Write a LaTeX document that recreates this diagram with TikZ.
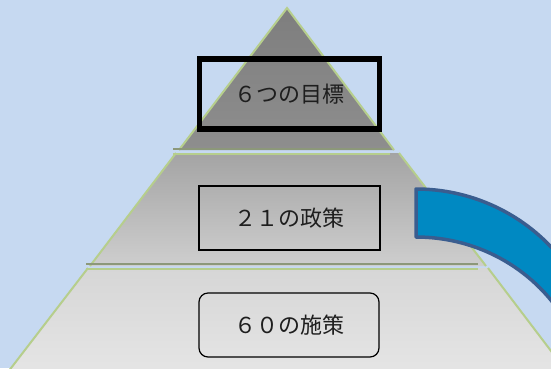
\documentclass[tikz,border=0pt]{standalone}
\usepackage{fontspec}
\setmainfont{Noto Sans CJK JP}
\definecolor{skyback}{RGB}{198,217,241}
\definecolor{edgegreen}{RGB}{182,206,140}
\definecolor{shadowline}{RGB}{140,152,122}
\definecolor{arrowfill}{RGB}{0,137,194}
\definecolor{arrowedge}{RGB}{58,93,143}
\definecolor{labeltext}{RGB}{30,30,30}
\begin{document}
\begin{tikzpicture}[x=1pt,y=-1pt,
      every node/.style={
        text=labeltext,
        inner sep=0pt,
        font=\fontsize{22}{24}\selectfont % full-width label size
      },
      goalbox/.style={draw=black,line width=5.5pt,minimum width=180pt,minimum height=70pt},
      policybox/.style={draw=black,line width=1.2pt,minimum width=181pt,minimum height=64pt},
      measurebox/.style={draw=black,line width=1.2pt,rounded corners=9pt,minimum width=180pt,minimum height=64pt},
      sideline/.style={edgegreen,line width=2pt},
      tierdark/.style={shadowline,line width=2pt},
      tierlight/.style={edgegreen,line width=2pt}]
      \useasboundingbox (0,0) rectangle (551,368);
      \clip (0,0) rectangle (551,368);
      \fill[skyback] (0,0) rectangle (551,368);

      % tiers of the pyramid
      \shade[top color={rgb,255:red,126;green,126;blue,126},bottom color={rgb,255:red,142;green,142;blue,142}]
        (287,8) -- (394,150) -- (179,150) -- cycle;
      \shade[top color={rgb,255:red,164;green,164;blue,164},bottom color={rgb,255:red,206;green,206;blue,206}]
        (176,153) -- (399,153) -- (486,266) -- (90,266) -- cycle;
      \shade[top color={rgb,255:red,214;green,214;blue,214},bottom color={rgb,255:red,229;green,229;blue,229}]
        (88,268) -- (488,268) -- (567,372) -- (8,372) -- cycle;

      % green sides
      \draw[sideline] (179,150) -- (287,8) -- (394,150);
      \draw[sideline] (176,153) -- (90,266);
      \draw[sideline] (399,153) -- (486,266);
      \draw[sideline] (88,268) -- (8,372);
      \draw[sideline] (488,268) -- (567,372);

      % lines between tiers
      \draw[tierdark] (173,149) -- (390,149);
      \draw[tierlight] (173,154) -- (390,154);
      \draw[tierdark] (86,264) -- (478,264);
      \draw[tierlight] (86,269) -- (478,269);

      % curved arrow
      \draw[arrowedge,fill=arrowfill,line width=3.5pt,line join=round]
        (416,189) .. controls (482,189) and (544,224) .. (577,282)
        -- (568,325) .. controls (537,270) and (479,237) .. (416,237) -- cycle;

      \node[goalbox] (goal) at (289.5,94) {６つの目標};
      \node[policybox] (policy) at (289.5,218) {２１の政策};
      \node[measurebox] (measure) at (289,325) {６０の施策};
    \end{tikzpicture}
\end{document}
